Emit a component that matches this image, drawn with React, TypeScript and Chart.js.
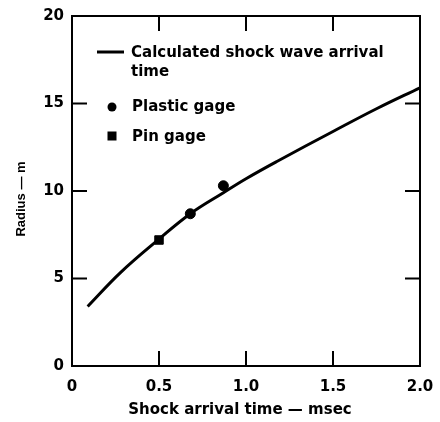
import React, { useEffect, useRef } from "react";
import { Chart, registerables } from "chart.js";

Chart.register(...registerables);

const curveTime = [0.09, 0.28, 0.5, 0.68, 0.87, 1.0, 1.18, 1.5, 1.75, 2.0];
const curveRadius = [3.4, 5.35, 7.25, 8.7, 9.9, 10.7, 11.7, 13.4, 14.7, 15.9];
const plasticTime = [0.68, 0.87];
const plasticRadius = [8.7, 10.3];
const pinTime = [0.5];
const pinRadius = [7.2];
const xTicks = [0, 0.5, 1.0, 1.5, 2.0];
const yTicks = [0, 5, 10, 15, 20];
const legendLabels = ["Calculated shock wave arrival", "time", "Plastic gage", "Pin gage"];
const xTitle = "Shock arrival time — msec";
const yTitle = "Radius — m";

const FONT = "'DejaVu Sans', sans-serif";

const framePlugin = {
  id: "frame",
  afterDraw(chart: any) {
    const { ctx, chartArea: a, scales } = chart;
    const xs = scales.x;
    const ys = scales.y;
    ctx.save();
    ctx.strokeStyle = "#000";
    ctx.lineWidth = 2;
    ctx.strokeRect(a.left, a.top, a.right - a.left, a.bottom - a.top);
    const tl = 15;
    ctx.beginPath();
    xTicks.forEach((v) => {
      if (v === xs.min || v === xs.max) return;
      const px = xs.getPixelForValue(v);
      ctx.moveTo(px, a.bottom);
      ctx.lineTo(px, a.bottom - tl);
      ctx.moveTo(px, a.top);
      ctx.lineTo(px, a.top + tl);
    });
    yTicks.forEach((v) => {
      if (v === ys.min || v === ys.max) return;
      const py = ys.getPixelForValue(v);
      ctx.moveTo(a.left, py);
      ctx.lineTo(a.left + tl, py);
      ctx.moveTo(a.right, py);
      ctx.lineTo(a.right - tl, py);
    });
    ctx.stroke();

    // legend
    const lx = a.left;
    const ty = a.top;
    ctx.fillStyle = "#000";
    ctx.lineWidth = 3;
    ctx.beginPath();
    ctx.moveTo(lx + 25, ty + 36);
    ctx.lineTo(lx + 52, ty + 36);
    ctx.stroke();
    ctx.font = `bold 15px ${FONT}`;
    ctx.textBaseline = "middle";
    ctx.textAlign = "left";
    ctx.fillText(legendLabels[0], lx + 59, ty + 37);
    ctx.fillText(legendLabels[1], lx + 59, ty + 56);
    ctx.beginPath();
    ctx.arc(lx + 40, ty + 91, 4.5, 0, Math.PI * 2);
    ctx.fill();
    ctx.fillText(legendLabels[2], lx + 60, ty + 91);
    ctx.fillRect(lx + 35.5, ty + 115.5, 9, 9);
    ctx.fillText(legendLabels[3], lx + 60, ty + 121);

    // axis titles
    ctx.textAlign = "center";
    ctx.font = `bold 15px ${FONT}`;
    ctx.fillText(xTitle, 240, 410);
    ctx.save();
    ctx.translate(21, 199);
    ctx.rotate(-Math.PI / 2);
    ctx.font = `bold 13px 'Liberation Sans', sans-serif`;
    ctx.fillText(yTitle, 0, 0);
    ctx.restore();
    ctx.restore();
  },
};

export default function App() {
  const ref = useRef<HTMLCanvasElement>(null);
  useEffect(() => {
    if (!ref.current) return;
    const chart = new Chart(ref.current, {
      type: "line",
      data: {
        datasets: [
          {
            label: "Calculated shock wave arrival time",
            data: curveTime.map((t, i) => ({ x: t, y: curveRadius[i] })),
            borderColor: "#000",
            borderWidth: 3,
            pointRadius: 0,
            tension: 0.4,
            fill: false,
          },
          {
            label: "Plastic gage",
            data: plasticTime.map((t, i) => ({ x: t, y: plasticRadius[i] })),
            showLine: false,
            pointStyle: "circle",
            pointRadius: 5,
            backgroundColor: "#000",
            borderColor: "#000",
          },
          {
            label: "Pin gage",
            data: pinTime.map((t, i) => ({ x: t, y: pinRadius[i] })),
            showLine: false,
            pointStyle: "rect",
            pointRadius: 6,
            backgroundColor: "#000",
            borderColor: "#000",
          },
        ],
      },
      options: {
        animation: false,
        responsive: false,
        layout: { padding: { top: 16, right: 20, left: 0, bottom: 0 } },
        plugins: { legend: { display: false }, tooltip: { enabled: false } },
        scales: {
          x: {
            type: "linear",
            min: 0,
            max: 2,
            afterFit: (s: any) => {
              s.height = 56;
              s.paddingLeft = 0;
              s.paddingRight = 0;
            },
            afterBuildTicks: (s: any) => {
              s.ticks = xTicks.map((v) => ({ value: v }));
            },
            grid: { display: false, drawTicks: false },
            border: { display: false },
            ticks: {
              color: "#000",
              padding: 12,
              maxRotation: 0,
              font: { family: FONT, size: 15, weight: "bold" },
              callback: (v: any) => (v === 0 ? "0" : Number(v).toFixed(1)),
            },
          },
          y: {
            type: "linear",
            min: 0,
            max: 20,
            afterFit: (s: any) => {
              s.width = 72;
              s.paddingTop = 0;
              s.paddingBottom = 0;
            },
            afterBuildTicks: (s: any) => {
              s.ticks = yTicks.map((v) => ({ value: v }));
            },
            grid: { display: false, drawTicks: false },
            border: { display: false },
            ticks: {
              color: "#000",
              padding: 8,
              font: { family: FONT, size: 15, weight: "bold" },
              callback: (v: any) => String(v),
            },
          },
        },
      },
      plugins: [framePlugin],
    } as any);
    return () => chart.destroy();
  }, []);
  return (
    <div style={{ position: "fixed", left: 0, top: 0, width: 440, height: 422, background: "#fff" }}>
      <canvas ref={ref} width={440} height={422} style={{ width: 440, height: 422 }} />
    </div>
  );
}
